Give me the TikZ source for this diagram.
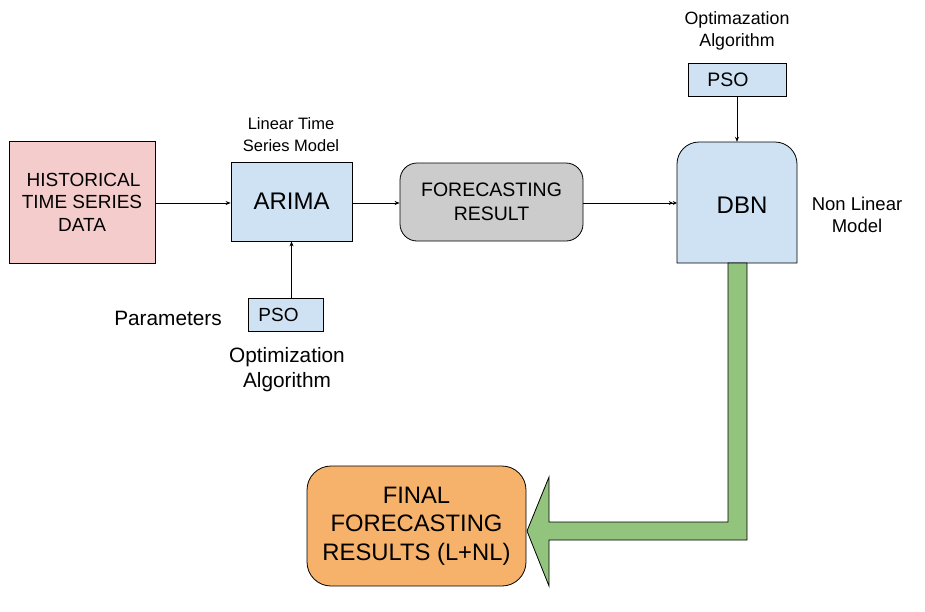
\documentclass[tikz,border=0pt]{standalone}
\usepackage{fontspec}
\setmainfont{Liberation Sans}
\usetikzlibrary{arrows.meta}
\definecolor{pinkfill}{HTML}{F4CCCC}
\definecolor{bluefill}{HTML}{CFE2F3}
\definecolor{grayfill}{HTML}{CCCCCC}
\definecolor{orangefill}{HTML}{F6B26B}
\definecolor{greenfill}{HTML}{93C47D}
\newcommand{\fsz}[2]{\fontsize{#1}{#2}\selectfont}
\tikzset{
  box/.style={draw=black, line width=0.8pt, align=center, inner sep=0pt},
  lbl/.style={align=center, inner sep=0pt},
  conn/.style={line width=0.7pt, -{Stealth[length=5pt,width=4pt]}},
  dconn/.style={line width=0.7pt, -{Stealth[length=4pt,width=4pt]Stealth[length=4pt,width=4pt]}},
}
\begin{document}
\begin{tikzpicture}[x=1pt,y=-1pt]
\useasboundingbox[fill=white] (0,0) rectangle (925,611);

% boxes
\node[box, fill=pinkfill, minimum width=146pt, minimum height=122pt, font=\fsz{19}{22.5}] (hist) at (82,202) {\hspace*{3pt}HISTORICAL\\TIME SERIES\\DATA};
\node[box, fill=bluefill, minimum width=121pt, minimum height=79pt, font=\fsz{24}{28}] (arima) at (291.5,201.5) {ARIMA};
\node[box, fill=grayfill, rounded corners=17pt, minimum width=183pt, minimum height=78pt, font=\fsz{19.5}{24}] (fore) at (491.5,202) {FORECASTING\\RESULT};
\node[inner sep=0pt, minimum width=120pt, minimum height=121pt, font=\fsz{24}{28}] (dbn) at (737,202.5) {};
\fill[bluefill, draw=black, line width=0.8pt] (677,263) -- (677,164) arc[start angle=180, end angle=270, radius=22] -- (775,142) arc[start angle=-90, end angle=0, radius=22] -- (797,263) -- cycle;
\node[lbl, font=\fsz{24}{28}] (dbntext) at (742,205) {DBN};
\node[box, fill=bluefill, minimum width=98pt, minimum height=33pt, font=\fsz{19.5}{22}] (psoa) at (737,79.5) {PSO\hspace*{18pt}};
\node[box, fill=bluefill, minimum width=75pt, minimum height=33pt, font=\fsz{19}{22}] (psob) at (285.5,314.5) {PSO\hspace*{14pt}};

% green arrow
\path[fill=greenfill, draw=black, line width=0.8pt] (728,263) -- (747,263) -- (747,540) -- (549,540) -- (549,586) -- (527,531) -- (549,477) -- (549,522) -- (728,522) -- cycle;

\node[box, fill=orangefill, rounded corners=24pt, minimum width=219pt, minimum height=120pt, font=\fsz{23.8}{28.5}] (final) at (416.5,526) {FINAL\\FORECASTING\\RESULTS (L+NL)};

% labels
\node[lbl, font=\fsz{16.5}{22}] (linlbl) at (291,135) {Linear Time\\Series Model};
\node[lbl, font=\fsz{17.8}{22}] (optlbla) at (737,31) {Optimazation\\Algorithm};
\node[lbl, font=\fsz{18.5}{22}] (nllbl) at (857,215) {Non Linear\\Model};
\node[lbl, font=\fsz{20.8}{25}] (parlbl) at (168,318) {Parameters};
\node[lbl, font=\fsz{20.8}{25}] (optlblb) at (287,370) {Optimization\\Algorithm};

% connectors
\draw[conn] (hist.east |- 0,203) -- (arima.west |- 0,203);
\draw[conn] (arima.east |- 0,203) -- (fore.west |- 0,203);
\draw[dconn] (fore.east |- 0,203) -- (dbn.west |- 0,203);
\draw[conn] (psoa.south) -- (dbn.north);
\draw[conn] (psob.north -| arima.south) -- (arima.south);
\end{tikzpicture}
\end{document}
